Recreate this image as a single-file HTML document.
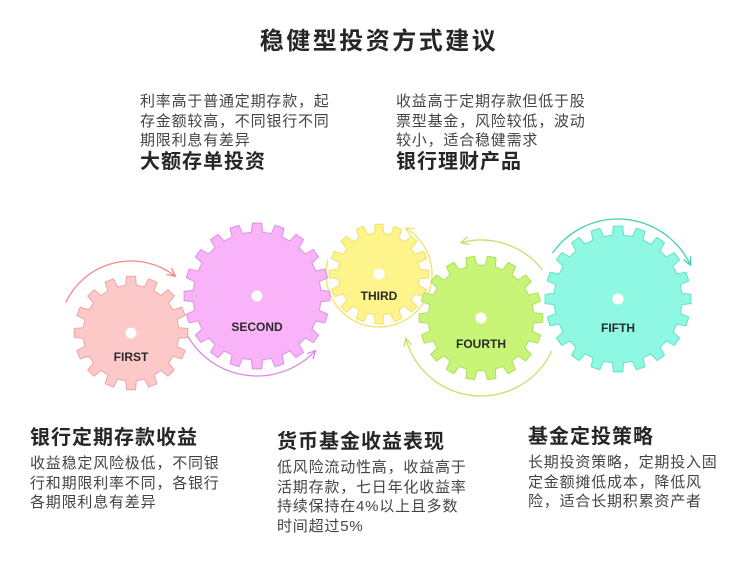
<!DOCTYPE html>
<html><head><meta charset="utf-8"><style>
body{margin:0;width:738px;height:574px;background:#fff;position:relative;overflow:hidden;font-family:"Liberation Sans","Noto Sans CJK SC",sans-serif;}
.t{position:absolute;color:#444;font-size:15px;line-height:19.5px;letter-spacing:0.8px;white-space:nowrap;}
.h{position:absolute;color:#262626;font-size:20px;font-weight:bold;letter-spacing:1px;white-space:nowrap;line-height:24px;}
svg{position:absolute;left:0;top:0;}
</style></head><body>
<svg id="s" width="738" height="574" viewBox="0 0 738 574"></svg>
<div class="h" style="left:10px;width:738px;text-align:center;top:30px;font-size:24px;letter-spacing:2.5px;">稳健型投资方式建议</div>
<div class="t" style="left:140px;top:92px;">利率高于普通定期存款，起<br>存金额较高，不同银行不同<br>期限利息有差异</div>
<div class="h" style="left:140px;top:150px;">大额存单投资</div>
<div class="t" style="left:396px;top:92px;">收益高于定期存款但低于股<br>票型基金，风险较低，波动<br>较小，适合稳健需求</div>
<div class="h" style="left:396px;top:150px;">银行理财产品</div>
<div class="h" style="left:30px;top:426px;">银行定期存款收益</div>
<div class="t" style="left:30px;top:454px;">收益稳定风险极低，不同银<br>行和期限利率不同，各银行<br>各期限利息有差异</div>
<div class="h" style="left:277px;top:430px;">货币基金收益表现</div>
<div class="t" style="left:277px;top:458px;">低风险流动性高，收益高于<br>活期存款，七日年化收益率<br>持续保持在4%以上且多数<br>时间超过5%</div>
<div class="h" style="left:528px;top:425px;">基金定投策略</div>
<div class="t" style="left:528px;top:453px;">长期投资策略，定期投入固<br>定金额摊低成本，降低风<br>险，适合长期积累资产者</div>
<script>
var s=document.getElementById('s'),NS='http://www.w3.org/2000/svg';
function el(n,a){var e=document.createElementNS(NS,n);for(var k in a)e.setAttribute(k,a[k]);s.appendChild(e);return e;}
function gear(cx,cy,R,n,fill,stroke,label,ly){
 var r=R-9,d='';
 for(var i=0;i<n;i++){
  var a=2*Math.PI*i/n,st=2*Math.PI/n;
  var pts=[[r,a-st*0.28],[R,a-st*0.2],[R,a+st*0.2],[r,a+st*0.28]];
  pts.forEach(function(p,j){var x=cx+p[0]*Math.cos(p[1]),y=cy+p[0]*Math.sin(p[1]);d+=(i==0&&j==0?'M':'L')+x.toFixed(1)+' '+y.toFixed(1)+' ';});
 }
 d+='Z';
 el('path',{d:d,fill:fill,stroke:stroke,'stroke-width':1,'stroke-linejoin':'round'});
 el('circle',{cx:cx,cy:cy,r:5.5,fill:'#fff'});
 var t=el('text',{x:cx,y:ly,'text-anchor':'middle','font-size':12,'font-weight':'bold',fill:'#2a2a2a','font-family':'Liberation Sans,sans-serif'});t.textContent=label;
}
function arc(cx,cy,r,a1,a2,col){
 var p=function(a){return [cx+r*Math.cos(a*Math.PI/180),cy+r*Math.sin(a*Math.PI/180)];};
 var A=p(a1),B=p(a2),large=Math.abs(a2-a1)>180?1:0,sw=a2>a1?1:0;
 el('path',{d:'M'+A[0]+' '+A[1]+' A'+r+' '+r+' 0 '+large+' '+sw+' '+B[0]+' '+B[1],fill:'none',stroke:col,'stroke-width':1.3});
 var dir=(sw?1:-1),ta=(a2+dir*90)*Math.PI/180;
 var tx=Math.cos(ta),ty=Math.sin(ta);
 var bx=B[0]-tx*8,by=B[1]-ty*8,nx=-ty,ny=tx;
 el('path',{d:'M'+(bx+nx*4)+' '+(by+ny*4)+' L'+B[0]+' '+B[1]+' L'+(bx-nx*4)+' '+(by-ny*4),fill:'none',stroke:col,'stroke-width':1.3});
}
arc(131,333,72,-155,-52,'#f28a8a');
arc(257,296,80,155,43,'#d98ae6');
arc(379,274,53,195,-60,'#eee46a');
arc(481,318,78,-38,-105,'#c2e36a');
arc(481,318,78,25,165,'#c2e36a');
arc(618,299,80,-145,-25,'#3fd3b4');
gear(131,333,57,16,'#fdc8c8','#f0a4a4','FIRST',361);
gear(257,296,73,20,'#f9b4f9','#e08de6','SECOND',331);
gear(379,274,50,16,'#fdf58c','#efe06a','THIRD',300);
gear(481,318,62,18,'#c8f477','#ade05a','FOURTH',348);
gear(618,299,73,20,'#8ff8e2','#62e2c6','FIFTH',332);
</script>
</body></html>
